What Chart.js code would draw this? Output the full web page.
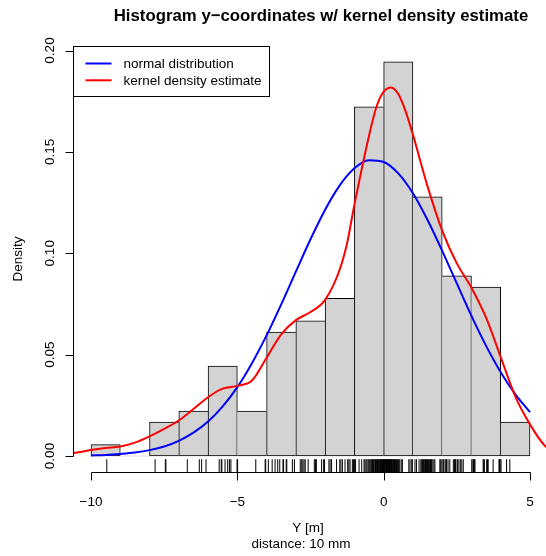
<!DOCTYPE html>
<html><head><meta charset="utf-8">
<script src="https://cdn.jsdelivr.net/npm/chart.js@4.4.1/dist/chart.umd.min.js"></script>
<style>html,body{margin:0;padding:0;background:#fff;overflow:hidden}canvas{display:block}</style>
</head><body>
<canvas id="c" width="546" height="556"></canvas>
<script>
// ---- data ----
const chartTitle = "Histogram y\u2212coordinates w/ kernel density estimate";
const xLabelLines = ["Y [m]", "distance: 10 mm"];
const yLabel = "Density";
const legendLabels = ["normal distribution", "kernel density estimate"];

// histogram bins (left edges, width 1) and densities
const binLeft = [-10, -9, -8, -7, -6, -5, -4, -3, -2, -1, 0, 1, 2, 3, 4];
const binDensity = [0.0056, 0, 0.0167, 0.0222, 0.0444, 0.0222, 0.0611, 0.0667, 0.0778, 0.1722, 0.1944, 0.1278, 0.0889, 0.0833, 0.0167];

// normal distribution curve
const normalX = [-10, -9.5, -9, -8.5, -8, -7.5, -7, -6.5, -6, -5.5, -5, -4.5, -4, -3.5, -3, -2.5, -2, -1.5, -1, -0.5, 0, 0.5, 1, 1.5, 2, 2.5, 3, 3.5, 4, 4.5, 5];
const normalY = [0.0003, 0.0005, 0.0010, 0.0017, 0.0029, 0.0047, 0.0075, 0.0115, 0.0170, 0.0245, 0.0340, 0.0458, 0.0595, 0.0748, 0.0909, 0.1069, 0.1215, 0.1335, 0.1419, 0.1459, 0.1450, 0.1394, 0.1296, 0.1164, 0.1012, 0.0851, 0.0691, 0.0543, 0.0413, 0.0304, 0.0216];

// kernel density estimate curve
const kdeX = [-10.8, -10.0, -9.5, -9.0, -8.5, -8.0, -7.5, -7.0, -6.5, -6.0, -5.5, -5.0, -4.5, -4.0, -3.5, -3.0, -2.5, -2.0, -1.5, -1.25, -1.0, -0.75, -0.5, -0.25, 0.0, 0.25, 0.5, 0.75, 1.0, 1.5, 2.0, 2.5, 3.0, 3.5, 4.0, 4.5, 5.0, 5.5, 5.8];
const kdeY = [0.0008, 0.0030, 0.0040, 0.0047, 0.0066, 0.0097, 0.0134, 0.0175, 0.0232, 0.0290, 0.0332, 0.0346, 0.0372, 0.0485, 0.0600, 0.0670, 0.0710, 0.0770, 0.0920, 0.1049, 0.1240, 0.1415, 0.1580, 0.1720, 0.1797, 0.1818, 0.1785, 0.1700, 0.1585, 0.1330, 0.1112, 0.0950, 0.0830, 0.0682, 0.0488, 0.0293, 0.0156, 0.0052, 0.0025];

// rug: individual observations
const observations = [
  -9.46,
  -7.81, -7.46, -7.44,
  -6.71, -6.30, -6.22, -6.07,
  -5.62, -5.55, -5.53, -5.42, -5.33, -5.27, -5.22, -5.01,
  -4.99, -4.37, -4.05, -4.03,
  -3.94, -3.81, -3.71, -3.62, -3.55, -3.44, -3.42, -3.33, -3.31, -3.12, -3.05,
  -2.85, -2.80, -2.76, -2.72, -2.68, -2.58, -2.37, -2.33, -2.30, -2.12, -2.05, -2.02,
  -1.87, -1.83, -1.78, -1.61, -1.50, -1.46, -1.41, -1.32, -1.23, -1.19, -1.15, -1.07, -1.03, -1.00,
  -0.96, -0.84, -0.75, -0.67, -0.64, -0.60, -0.57, -0.53, -0.50, -0.47, -0.44, -0.41, -0.38, -0.35, -0.33, -0.30,
  -0.28, -0.26, -0.24, -0.21, -0.19, -0.17, -0.15, -0.13, -0.11, -0.09, -0.07, -0.05, -0.04, -0.02, -0.01,
  0.01, 0.02, 0.04, 0.05, 0.07, 0.08, 0.10, 0.11, 0.13, 0.15, 0.16, 0.18, 0.20, 0.22, 0.24, 0.25, 0.27, 0.29,
  0.31, 0.33, 0.35, 0.37, 0.39, 0.41, 0.44, 0.47, 0.50, 0.52, 0.55, 0.60, 0.64, 0.86, 0.90, 0.96, 0.98,
  1.07, 1.12, 1.21, 1.27, 1.30, 1.33, 1.36, 1.40, 1.43, 1.45, 1.47, 1.50, 1.53, 1.57, 1.60, 1.62, 1.64, 1.68, 1.72, 1.75, 1.92, 1.95, 1.99,
  2.03, 2.05, 2.10, 2.13, 2.15, 2.20, 2.26, 2.38, 2.42, 2.45, 2.47, 2.52, 2.57, 2.62, 2.67, 2.72,
  3.01, 3.05, 3.07, 3.10, 3.12, 3.40, 3.42, 3.44, 3.52, 3.55, 3.57, 3.74, 3.94, 3.96, 3.98,
  4.01, 4.20, 4.31
];

const xTickValues = [-10, -5, 0, 5];
const xTickLabels = ["\u221210", "\u22125", "0", "5"];
const yTickValues = [0, 0.05, 0.10, 0.15, 0.20];
const yTickLabels = ["0.00", "0.05", "0.10", "0.15", "0.20"];

// ---- drawing ----
const FONT = '"Liberation Sans", Arial, Helvetica, sans-serif';
const BASE = 13.5;

const rPlugin = {
  id: 'rstyle',
  afterDatasetsDraw(chart) {
    const ctx = chart.ctx, xs = chart.scales.x, ys = chart.scales.y, ca = chart.chartArea;
    ctx.save();
    // rug
    ctx.strokeStyle = '#000';
    ctx.lineWidth = 1;
    const rugLen = 0.03 * (ca.bottom - ca.top);
    ctx.beginPath();
    observations.forEach(v => {
      const px = xs.getPixelForValue(v);
      ctx.moveTo(px, ca.bottom);
      ctx.lineTo(px, ca.bottom - rugLen);
    });
    ctx.stroke();

    // x axis
    const axY = Math.round(ca.bottom) + 0.5;
    ctx.beginPath();
    ctx.moveTo(Math.round(xs.getPixelForValue(xTickValues[0])) + 0.5, axY);
    ctx.lineTo(Math.round(xs.getPixelForValue(xTickValues[xTickValues.length - 1])) + 0.5, axY);
    xTickValues.forEach(v => {
      const px = Math.round(xs.getPixelForValue(v)) + 0.5;
      ctx.moveTo(px, axY);
      ctx.lineTo(px, axY + 8);
    });
    ctx.stroke();
    ctx.fillStyle = '#000';
    ctx.font = BASE + 'px ' + FONT;
    ctx.textAlign = 'center';
    ctx.textBaseline = 'alphabetic';
    xTickValues.forEach((v, i) => {
      ctx.fillText(xTickLabels[i], xs.getPixelForValue(v), ca.bottom + 34);
    });

    // y axis
    const axX = Math.round(ca.left) + 0.5;
    ctx.beginPath();
    ctx.moveTo(axX, Math.round(ys.getPixelForValue(yTickValues[0])) + 0.5);
    ctx.lineTo(axX, Math.round(ys.getPixelForValue(yTickValues[yTickValues.length - 1])) + 0.5);
    yTickValues.forEach(v => {
      const py = Math.round(ys.getPixelForValue(v)) + 0.5;
      ctx.moveTo(axX, py);
      ctx.lineTo(axX - 8, py);
    });
    ctx.stroke();
    yTickValues.forEach((v, i) => {
      ctx.save();
      ctx.translate(ca.left - 19, ys.getPixelForValue(v));
      ctx.rotate(-Math.PI / 2);
      ctx.fillText(yTickLabels[i], 0, 0);
      ctx.restore();
    });

    // y label
    ctx.save();
    ctx.translate(ca.left - 51, (ca.top + ca.bottom) / 2);
    ctx.rotate(-Math.PI / 2);
    ctx.fillText(yLabel, 0, 0);
    ctx.restore();

    // x label (two lines)
    ctx.fillText(xLabelLines[0], 308, ca.bottom + 60);
    ctx.fillText(xLabelLines[1], 301, ca.bottom + 76);

    // title
    ctx.font = 'bold 16.8px ' + FONT;
    ctx.fillText(chartTitle, 321, 21);

    // legend
    const lx = Math.round(ca.left) + 0.5, ly = Math.round(ca.top) + 0.5;
    ctx.fillStyle = '#fff';
    ctx.fillRect(lx, ly, 196, 50);
    ctx.strokeStyle = '#000';
    ctx.strokeRect(lx, ly, 196, 50);
    const legendColors = [chart.data.datasets[1].borderColor, chart.data.datasets[0].borderColor];
    ctx.font = BASE + 'px ' + FONT;
    ctx.textAlign = 'left';
    legendLabels.forEach((lab, i) => {
      const yy = ly + 17 + i * 16.8;
      ctx.strokeStyle = legendColors[i];
      ctx.lineWidth = 2;
      ctx.beginPath();
      ctx.moveTo(lx + 12, yy);
      ctx.lineTo(lx + 38, yy);
      ctx.stroke();
      ctx.fillStyle = '#000';
      ctx.fillText(lab, lx + 50, yy + 4.6);
    });
    ctx.restore();
  }
};

new Chart(document.getElementById('c'), {
  type: 'bar',
  data: {
    datasets: [
      {
        type: 'line', label: legendLabels[1],
        data: kdeX.map((x, i) => ({x, y: kdeY[i]})),
        borderColor: '#FF0000', borderWidth: 2, pointRadius: 0,
        cubicInterpolationMode: 'monotone', clip: 0, order: 1
      },
      {
        type: 'line', label: legendLabels[0],
        data: normalX.map((x, i) => ({x, y: normalY[i]})),
        borderColor: '#0000FF', borderWidth: 2, pointRadius: 0,
        cubicInterpolationMode: 'monotone', clip: 0, order: 2
      },
      {
        type: 'bar', label: 'histogram',
        data: binLeft.map((b, i) => ({x: b + 0.5, y: binDensity[i]})),
        backgroundColor: '#D3D3D3', borderColor: '#000',
        borderWidth: (c) => {
          const i = c.dataIndex, h = binDensity[i];
          const prev = binDensity[i - 1], next = binDensity[i + 1];
          return {
            left: (prev === undefined || prev <= h) ? 1 : 0,
            right: (next === undefined || next < h) ? 1 : 0,
            top: 1, bottom: 1
          };
        },
        borderSkipped: false, barPercentage: 1, categoryPercentage: 1, order: 3
      }
    ]
  },
  options: {
    responsive: false, animation: false, devicePixelRatio: 1,
    layout: {padding: {left: 73, top: 46, right: 0, bottom: 84}},
    plugins: {legend: {display: false}, tooltip: {enabled: false}, title: {display: false}},
    scales: {
      x: {
        type: 'linear', min: -10.615, max: 5.547, display: false, offset: false,
        ticks: {stepSize: 1},
        afterBuildTicks: (s) => { s.ticks = s.ticks.filter(t => Math.abs(t.value - Math.round(t.value)) < 1e-9); }
      },
      y: {type: 'linear', min: -0.00789, max: 0.20222, display: false}
    }
  },
  plugins: [rPlugin]
});
</script>
</body></html>
